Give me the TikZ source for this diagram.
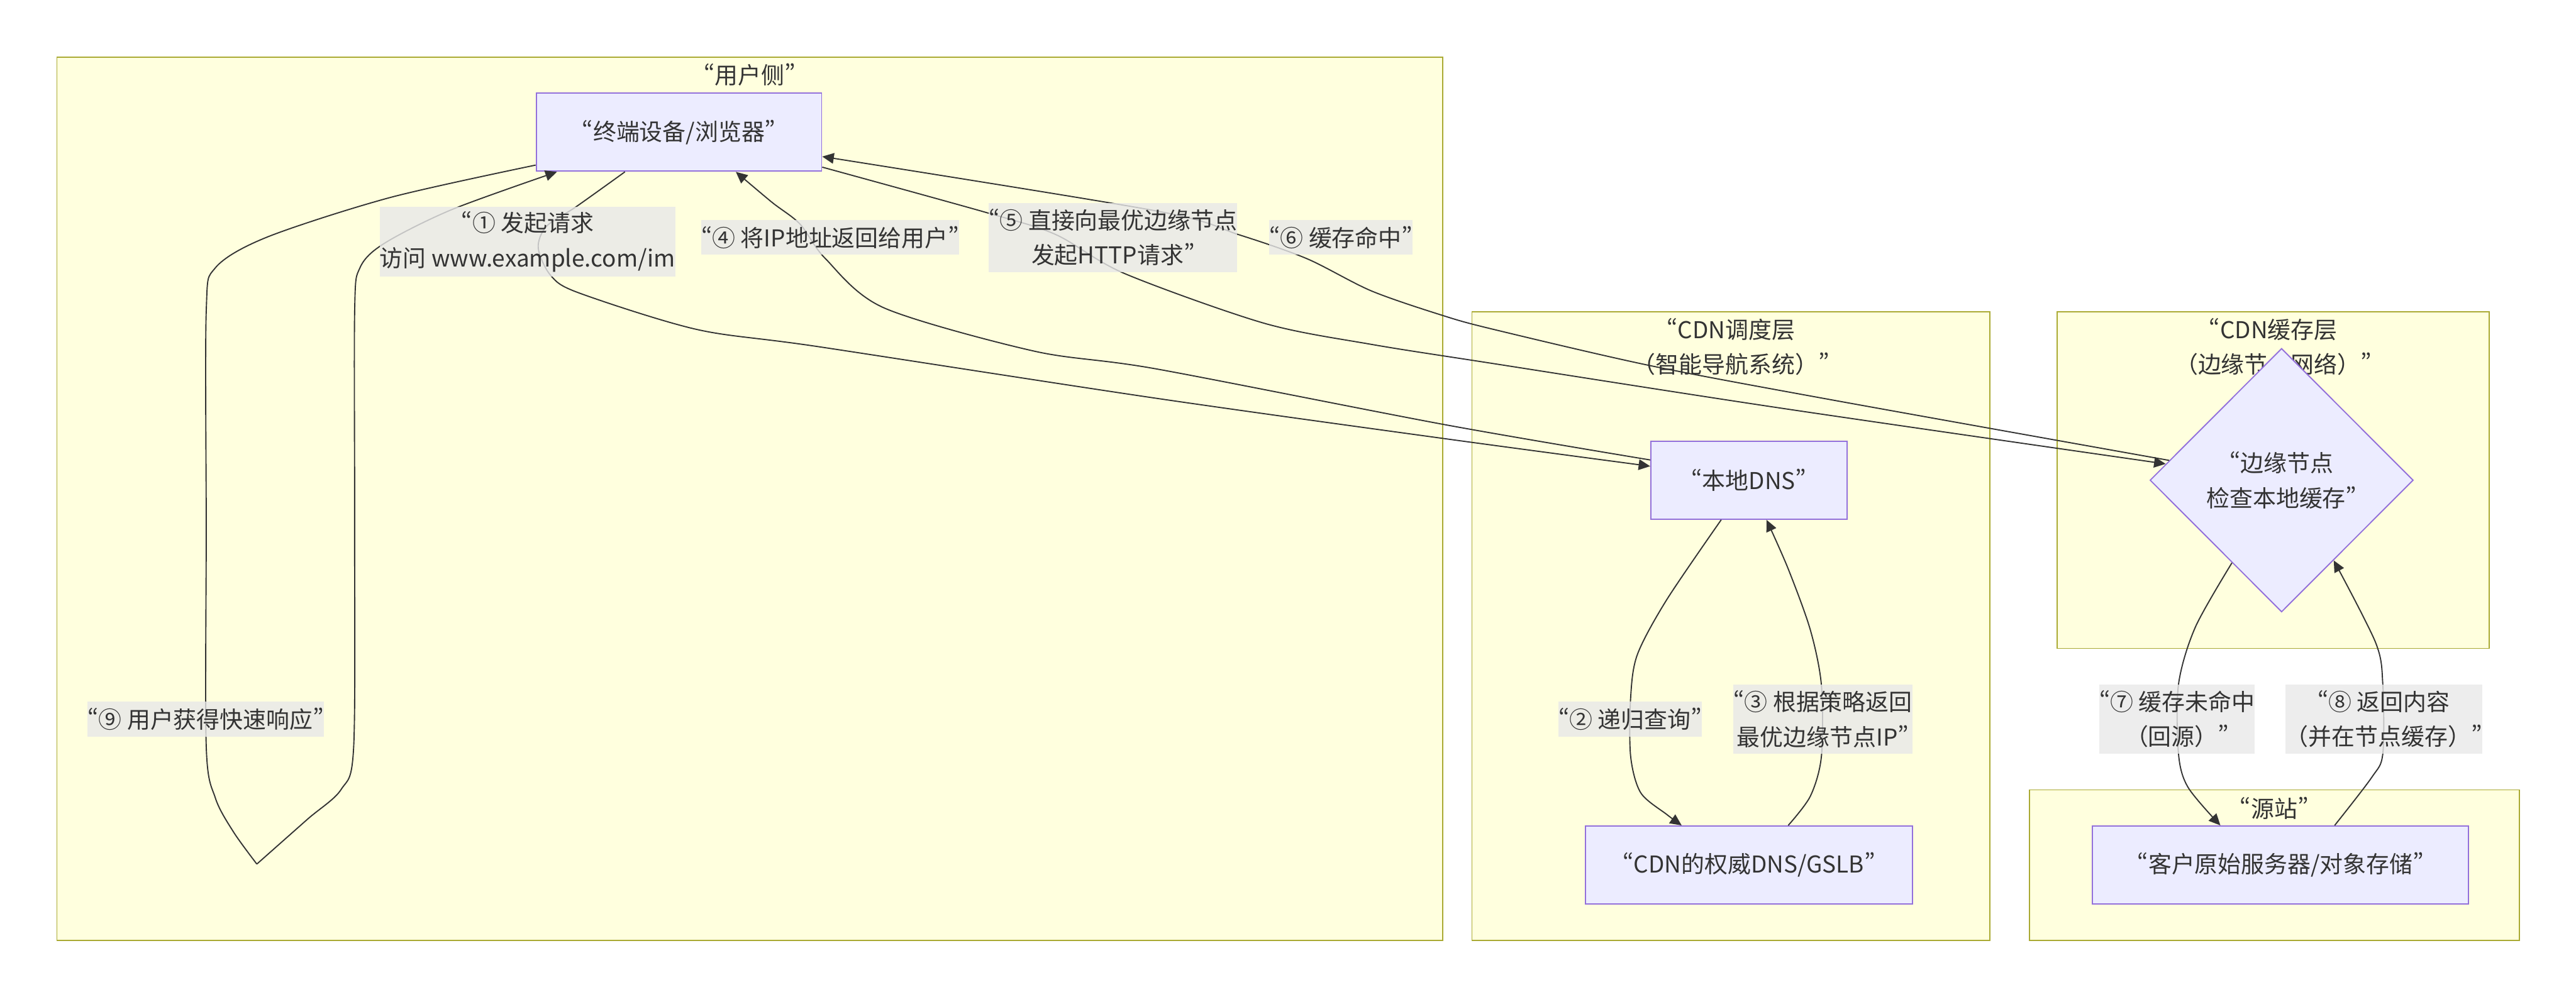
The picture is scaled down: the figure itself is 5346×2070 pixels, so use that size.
\documentclass[tikz,border=0pt]{standalone}
\usepackage{fontspec}
\setmainfont{Noto Sans CJK SC}
\newfontfamily\pwfont{Noto Sans CJK SC}[CharacterWidth=Proportional]
\newcommand\oq{{\pwfont “}}
\newcommand\cq{{\pwfont ”}}
\usepackage{tikz}
\usetikzlibrary{shapes.geometric, arrows.meta}
\usepackage{xcolor}
\definecolor{clusterfill}{HTML}{FFFFDE}
\definecolor{clusterline}{HTML}{AAAA33}
\definecolor{nodefill}{HTML}{ECECFF}
\definecolor{nodeline}{HTML}{9370DB}
\definecolor{edgeline}{HTML}{333333}
\definecolor{labelfill}{HTML}{E8E8E8}

\begin{document}
\begin{tikzpicture}[
    x=0.01cm, y=-0.01cm,
    every node/.style={text=edgeline, font=\fontsize{13.7pt}{20.5pt}\selectfont},
    cluster/.style={rectangle, draw=clusterline, fill=clusterfill, line width=0.7pt, inner sep=0pt},
    grouptitle/.style={align=center, inner sep=0pt},
    box/.style={rectangle, draw=nodeline, fill=nodefill, line width=0.7pt, align=center, inner sep=0pt, minimum height=1.62cm},
    check/.style={diamond, draw=nodeline, fill=nodefill, line width=0.7pt, align=center, inner sep=0pt, minimum width=5.46cm, minimum height=5.47cm},
    link/.style={draw=edgeline, line width=0.7pt},
    flow/.style={link, -{Triangle[length=0.24cm, width=0.22cm]}},
    lbl/.style={fill=labelfill, fill opacity=0.8, text opacity=1, inner xsep=0pt, inner ysep=0pt, minimum height=0.72cm, align=center},
]
\useasboundingbox (0,0) rectangle (5346,2070);

% Groups (subgraphs)
\node[cluster, minimum width=28.74cm, minimum height=18.33cm] (userside) at (1556,1035.5) {};
\node[cluster, minimum width=10.74cm, minimum height=13.04cm] (sched) at (3592,1300) {};
\node[cluster, minimum width=8.97cm, minimum height=6.98cm] (cache) at (4717.5,997) {};
\node[cluster, minimum width=10.16cm, minimum height=3.12cm] (originside) at (4720,1796) {};

% Group titles
\node[grouptitle] (usertitle) at (1556,155) {\oq 用户侧\cq};
\node[grouptitle] (schedtitle) at (3592,720) {\oq CDN调度层\\（智能导航系统）\cq};
\node[grouptitle] (cachetitle) at (4717.5,720) {\oq CDN缓存层\\（边缘节点网络）\cq};
\node[grouptitle] (origintitle) at (4720,1678) {\oq 源站\cq};

% Nodes
\node[box, minimum width=5.92cm] (user) at (1409,274.5) {\oq 终端设备/浏览器\cq};
\node[box, minimum width=4.07cm] (ldns) at (3629.5,997) {\oq 本地DNS\cq};
\node[box, minimum width=6.79cm] (gslb) at (3629.5,1796) {\oq CDN的权威DNS/GSLB\cq};
\node[check] (edge) at (4735,997) {\oq 边缘节点\\检查本地缓存\cq};
\node[box, minimum width=7.80cm] (origin) at (4733,1796) {\oq 客户原始服务器/对象存储\cq};

% Edges: user <-> local DNS
\draw[flow] plot[smooth] coordinates {([xshift=-1.12cm]user.south) (1196,429) (1134,470) (1117,515) (1143,572) (1201,608) (1446,684) (1700,720) (2400,827) (3000,911) ([yshift=0.29cm]ldns.west)};
\draw[flow] plot[smooth] coordinates {([yshift=0.42cm]ldns.west) (3000,882) (2400,766) (2146,729) (1834,639) (1713,537) (1660,465) (1602,420) ([xshift=1.18cm]user.south)};

% Edges: local DNS <-> authoritative DNS
\draw[flow] plot[smooth] coordinates {([xshift=-0.575cm]ldns.south) (3459,1245) (3398,1359) (3384,1449) (3384,1570) (3405,1646) (3459,1691) ([xshift=-1.395cm]gslb.north)};
\draw[flow] plot[smooth] coordinates {([xshift=0.815cm]gslb.north) (3757,1653) (3780,1570) (3780,1423) (3757,1308) (3711,1181) ([xshift=0.365cm]ldns.south)};

% Edges: user <-> edge node
\draw[flow] plot[smooth] coordinates {([yshift=-0.725cm]user.east) (2053,443) (2191,487) (2334,568) (2623,671) (2846,715) (3100,755) (3700,848) (edge.172)};
\draw[flow] plot[smooth] coordinates {(edge.170) (3800,830) (3424,759) (3100,684) (2994,655) (2846,604) (2712,537) (2570,487) (2400,438) ([yshift=-0.505cm]user.east)};

% Edges: edge node <-> origin
\draw[flow] plot[smooth] coordinates {(edge.239) (4556,1302) (4521,1421) (4521,1565) (4541,1635) ([xshift=-1.25cm]origin.north)};
\draw[flow] plot[smooth] coordinates {([xshift=1.12cm]origin.north) (4922,1614) (4945,1565) (4945,1421) (4930,1334) (edge.-57)};

% Edge: self loop on user
\coordinate (looptip) at (533,1794);
\draw[link] plot[smooth] coordinates {([yshift=0.14cm]user.south west) (810,410) (555,492) (447,556) (428,646) (428,1100) (428,1550) (447,1657) (485,1728) (looptip)};
\draw[flow] plot[smooth] coordinates {(looptip) (638,1701) (708,1639) (734,1550) (736,1100) (736,646) (747,556) (798,505) (938,435) ([xshift=-2.53cm]user.south)};

% Edge labels
\node[lbl, minimum height=1.44cm] (lblreq) at (1095,502) {\oq ① 发起请求\\访问 www.example.com/im};
\node[lbl] (lblip) at (1723,493) {\oq ④ 将IP地址返回给用户\cq};
\node[lbl, minimum height=1.44cm] (lblhttp) at (2310,493) {\oq ⑤ 直接向最优边缘节点\\发起HTTP请求\cq};
\node[lbl] (lblhit) at (2783,493) {\oq ⑥ 缓存命中\cq};
\node[lbl] (lblrecur) at (3383,1493) {\oq ② 递归查询\cq};
\node[lbl, minimum height=1.44cm] (lblanswer) at (3783,1493) {\oq ③ 根据策略返回\\最优边缘节点IP\cq};
\node[lbl, minimum height=1.44cm] (lblmiss) at (4518,1493) {\oq ⑦ 缓存未命中\\（回源）\cq};
\node[lbl, minimum height=1.44cm] (lblfill) at (4947,1493) {\oq ⑧ 返回内容\\（并在节点缓存）\cq};
\node[lbl] (lblresp) at (427,1493) {\oq ⑨ 用户获得快速响应\cq};

\end{tikzpicture}
\end{document}
